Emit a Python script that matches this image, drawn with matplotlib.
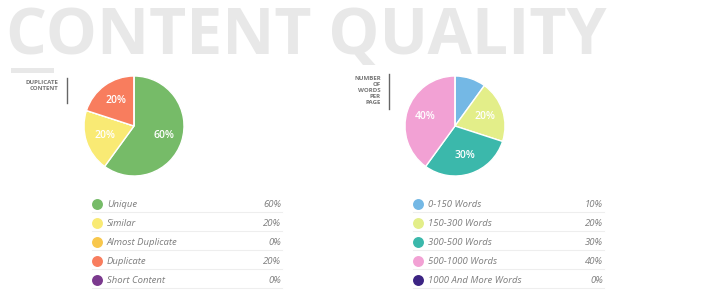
import matplotlib.pyplot as plt

plt.rcParams['font.family'] = ['Open Sans', 'DejaVu Sans']

title = "CONTENT QUALITY"

dup_note = "DUPLICATE\nCONTENT"
dup_labels = ["Unique", "Similar", "Almost Duplicate", "Duplicate", "Short Content"]
dup_values = [60, 20, 0, 20, 0]
dup_colors = ["#76bb68", "#f9ea74", "#f8c74c", "#f87d5e", "#7b3a8e"]

words_note = "NUMBER\nOF\nWORDS\nPER\nPAGE"
words_labels = ["0-150 Words", "150-300 Words", "300-500 Words", "500-1000 Words",
                "1000 And More Words"]
words_values = [10, 20, 30, 40, 0]
words_colors = ["#74b8e5", "#e3ee89", "#3bb8ab", "#f2a1d4", "#3c2483"]

W, H = 709, 295
fig = plt.figure(figsize=(W / 100, H / 100), dpi=100)
bg = fig.add_axes([0, 0, 1, 1])
bg.set_xlim(0, W)
bg.set_ylim(H, 0)
bg.axis('off')

# big faded title
bg.text(6, 54, title, fontsize=46.3, fontweight='bold', color='#e8e8e8',
        va='baseline', ha='left')
bg.fill_between([11, 54], 68, 73, color='#e8e8e8', lw=0)


def pie_block(cx, values, colors, note, note_x, line_x, line_y, labels,
              dot_x, text_x, val_x, line_x0):
    cy, r = 126, 51
    ax = fig.add_axes([(cx - r) / W, (H - cy - r) / H, 2 * r / W, 2 * r / H])
    ax.pie(values, colors=colors, startangle=90, counterclock=False,
           autopct=lambda p: '%d%%' % round(p) if p >= 15 else '',
           pctdistance=0.62,
           wedgeprops=dict(edgecolor='white', linewidth=1),
           textprops=dict(color='white', fontsize=7.5, fontweight='semibold'))
    ax.set_xlim(-1.02, 1.02)
    ax.set_ylim(-1.02, 1.02)

    bg.text(note_x, line_y[0] + 2, note, ha='right', va='top', fontsize=4.4,
            fontweight='bold', color='#777777', linespacing=1.25,
            multialignment='right')
    bg.plot([line_x, line_x], line_y, color='#666666', lw=1)

    for i, (lab, v, c) in enumerate(zip(labels, values, colors)):
        y = 204 + 19 * i
        bg.scatter([dot_x], [y], s=62, color=c, lw=0)
        bg.text(text_x, y + 0.5, lab, fontsize=6.8, style='italic', color='#7d7d7d',
                va='center', ha='left')
        bg.text(val_x, y + 0.5, '%d%%' % v, fontsize=6.8, style='italic',
                color='#7d7d7d', va='center', ha='right')
        bg.plot([line_x0, val_x + 1], [y + 8, y + 8], color='#eeeeee', lw=0.8)


pie_block(134, dup_values, dup_colors, dup_note, 58, 66.5, [78, 103],
          dup_labels, 97, 107, 281, 92)
pie_block(455, words_values, words_colors, words_note, 381, 388.5, [74, 109],
          words_labels, 418, 428, 603, 413)

fig.savefig('out.png', dpi=100)
